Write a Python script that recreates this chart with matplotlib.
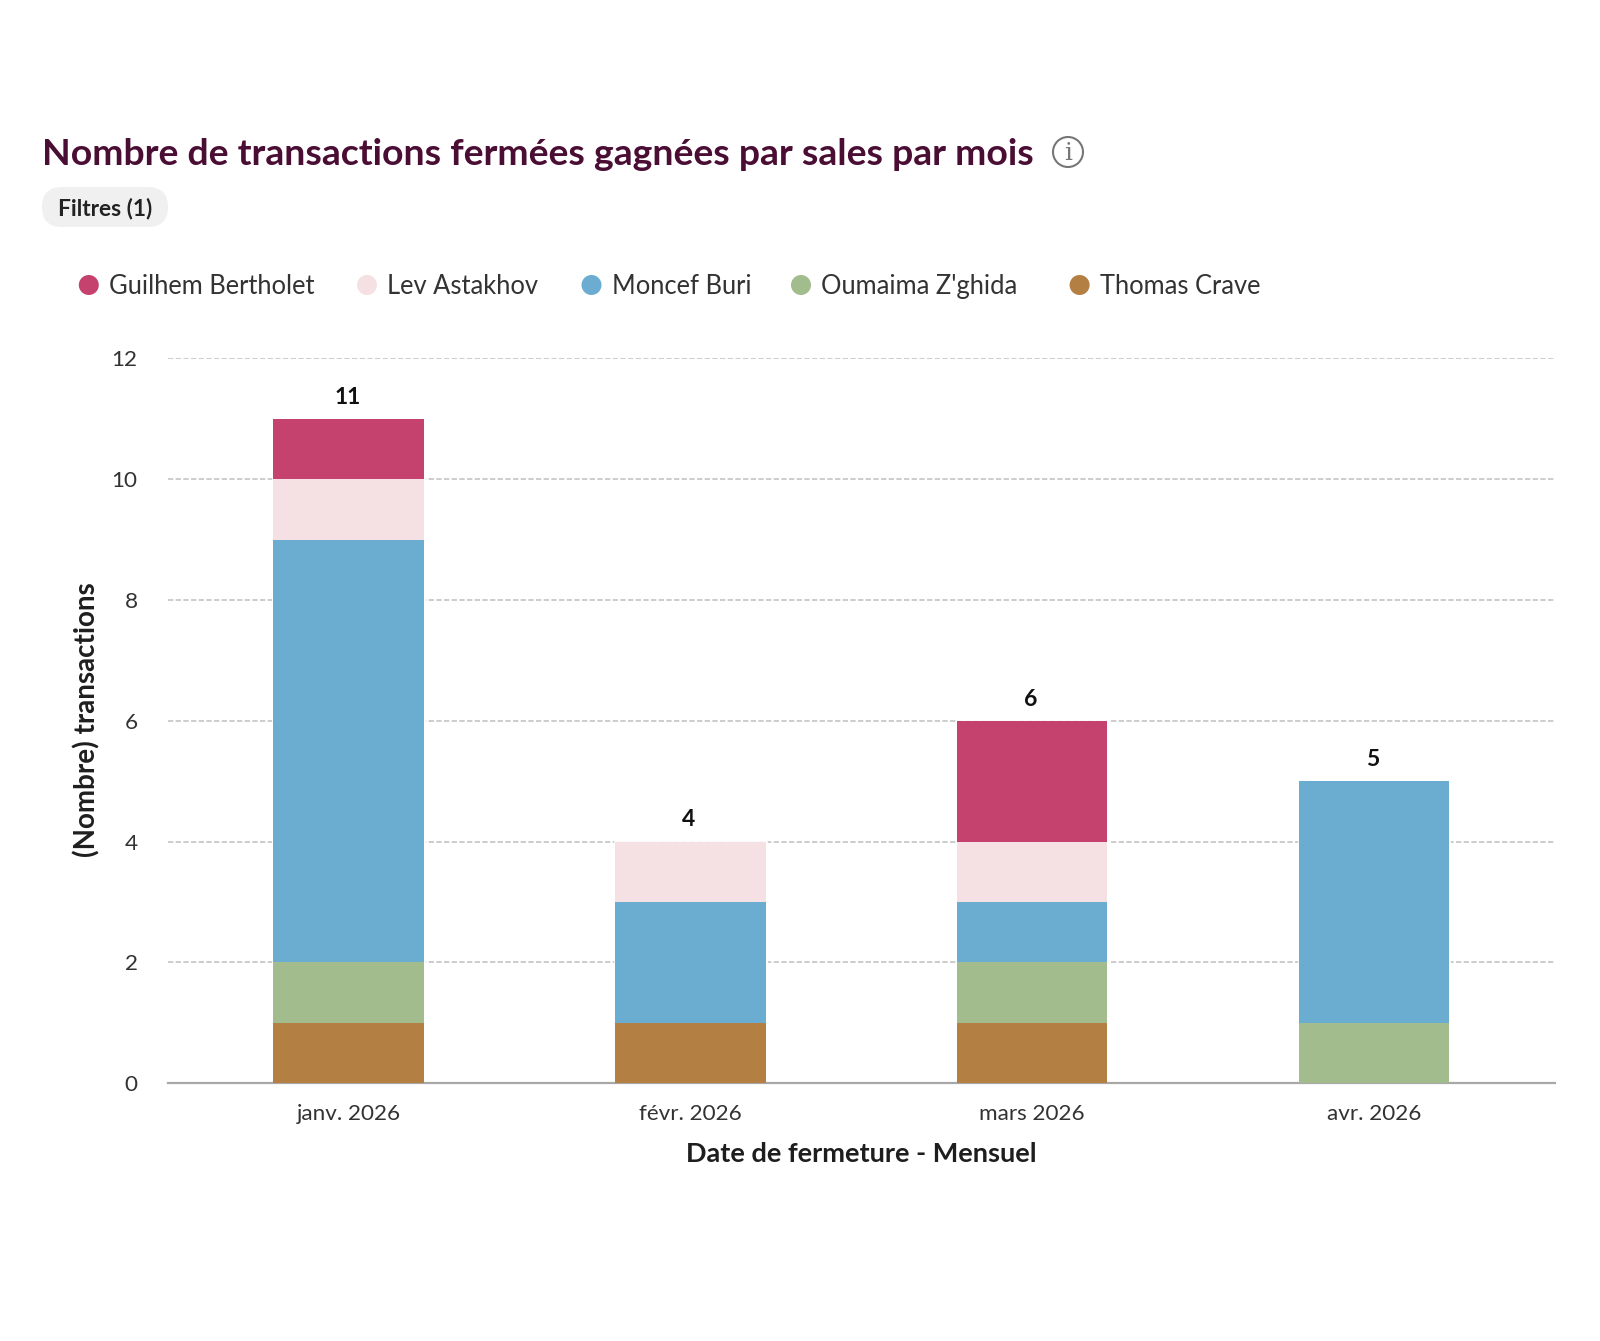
#!/usr/bin/env python3

import numpy as np
import matplotlib.pyplot as plt
from matplotlib.patches import Circle, FancyBboxPatch

months = ["janv. 2026", "févr. 2026", "mars 2026", "avr. 2026"]

# stacked bottom to top
names = ["Thomas Crave", "Oumaima Z'ghida", "Moncef Buri", "Lev Astakhov", "Guilhem Bertholet"]
thomas = [1, 1, 1, 0]
oumaima = [1, 0, 1, 1]
moncef = [7, 2, 1, 4]
lev = [1, 1, 1, 0]
guilhem = [1, 0, 2, 0]

colors = ["#B47F42", "#A2BC8D", "#6AADD1", "#F5E0E3", "#C5426F"]

W, H = 1600, 1341
PT = 72 / 100  # points per pixel at dpi 100

plt.rcParams["font.family"] = ["Lato", "DejaVu Sans"]

fig = plt.figure(figsize=(W / 100, H / 100), dpi=100, facecolor="white")
ax = fig.add_axes([167.5 / W, 1 - 1083 / H, (1555 - 167.5) / W, (1083 - 358.5) / H])

x = np.arange(len(months))
totals = np.sum([thomas, oumaima, moncef, lev, guilhem], axis=0)

# white backing keeps the grid lines a little away from the bars
ax.bar(x, totals, 0.44, color="white", edgecolor="white", linewidth=2, zorder=2)

bottom = np.zeros(len(months))
for values, color in zip([thomas, oumaima, moncef, lev, guilhem], colors):
	ax.bar(x, values, 0.44, bottom=bottom, color=color, edgecolor="none", zorder=3)
	bottom += values

for i, total in enumerate(totals):
	ax.annotate(f"{int(total)}", (i, total), xytext=(-1, 21.5 * PT), textcoords="offset points",
		ha="center", va="center", fontsize=16.5, fontweight="bold", color="#111111")

ax.set_xlim(-0.53, 3.53)
ax.set_ylim(0, 12)
ax.set_yticks(range(0, 13, 2))
ax.set_xticks(x, months)
ax.tick_params(axis="both", length=0, labelsize=16.2, labelcolor="#333333")
ax.tick_params(axis="x", pad=21 * PT)
ax.tick_params(axis="y", pad=30 * PT)
ax.grid(axis="y", color="#C4C4C4", linestyle=(0, (3.2, 1.4)), linewidth=1.2, zorder=1)
ax.set_axisbelow(True)

for side in ["top", "right", "left"]:
	ax.spines[side].set_visible(False)
ax.spines["bottom"].set_color("#A8A8A8")
ax.spines["bottom"].set_linewidth(1.6)
ax.spines["bottom"].set_zorder(2.5)

ax.set_xlabel("Date de fermeture - Mensuel", fontsize=19.5, fontweight="bold", color="#1E1E1E")
ax.xaxis.set_label_coords(0.5003, -0.081)
ax.set_ylabel("(Nombre) transactions", fontsize=20, fontweight="bold", color="#1E1E1E")
ax.yaxis.set_label_coords(-0.048, 0.5015)

# header and legend live on a full-figure layer in pixel units
top = fig.add_axes([0, 0, 1, 1], zorder=5)
top.set_xlim(0, W)
top.set_ylim(H, 0)
top.axis("off")

top.text(42, 154, "Nombre de transactions fermées gagnées par sales par mois", fontsize=26.9,
	fontweight="bold", color="#4A0D33", va="center", ha="left")

top.add_patch(Circle((1068, 152), 15, fill=False, edgecolor="#777777", linewidth=1.5))
top.text(1068, 153, "i", fontsize=18, family="DejaVu Serif", color="#777777", ha="center", va="center")

top.add_patch(FancyBboxPatch((62, 207), 86, 0, boxstyle="round,pad=20,rounding_size=20",
	facecolor="#F0F0F0", edgecolor="none"))
top.text(58, 208, "Filtres (1)", fontsize=16.4, fontweight="bold", color="#222222", va="center", ha="left")

legend_order = [4, 3, 2, 1, 0]
dot_x = [88.8, 367, 591.5, 801, 1079.6]
label_x = [109, 387, 612, 821, 1100]
for k, dx, lx in zip(legend_order, dot_x, label_x):
	top.add_patch(Circle((dx, 285), 10, facecolor=colors[k], edgecolor="none"))
	top.text(lx, 286, names[k], fontsize=18.4, color="#333333", va="center", ha="left")

fig.savefig("out.png", dpi=100)
